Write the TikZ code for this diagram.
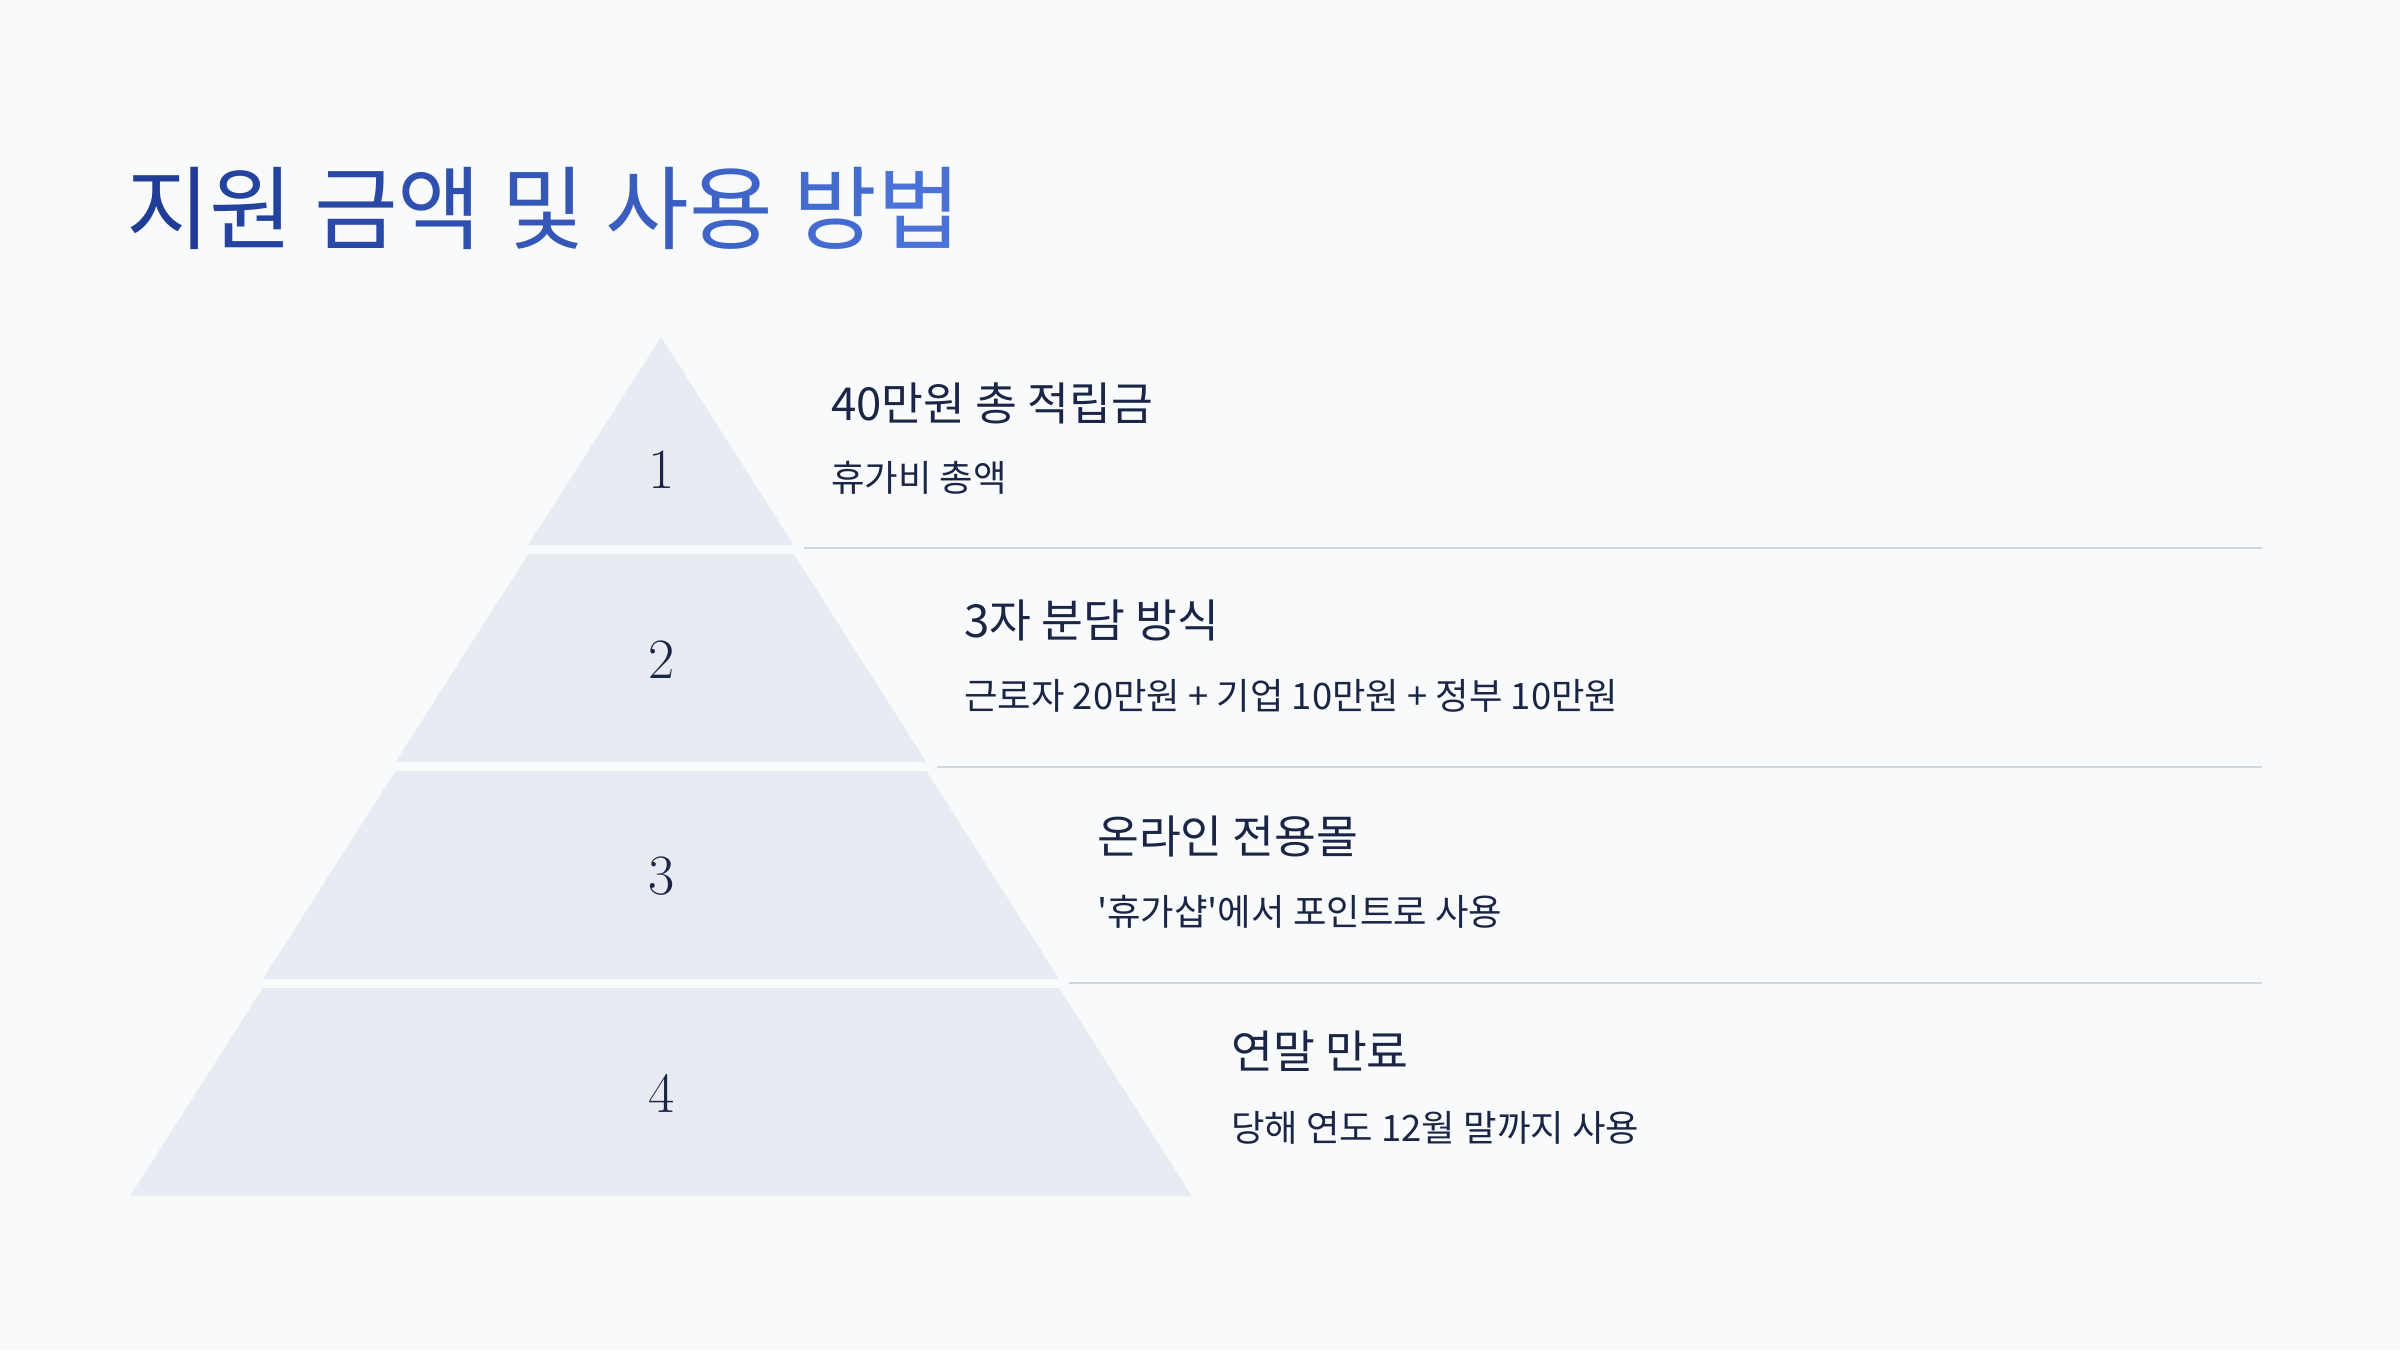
\documentclass[tikz,border=0pt]{standalone}
\usepackage{fontspec}
\newfontfamily\kr{Noto Sans CJK KR}
\usetikzlibrary{positioning}
\definecolor{bgcol}{HTML}{F9FAFC}
\definecolor{bandcol}{HTML}{E8EBF2}
\definecolor{rulecol}{HTML}{D2D5DC}
\definecolor{inkcol}{HTML}{1B2545}
\definecolor{titleA}{HTML}{1F3C96}
\definecolor{titleB}{HTML}{4A72D8}
\newcommand{\tc}[2]{\textcolor{titleB!#1!titleA}{#2}}

\begin{document}
\begin{tikzpicture}[x=1pt, y=-1pt,
    titletext/.style={anchor=west, inner sep=0pt, font=\kr\fontsize{91}{100}\selectfont},
    headtext/.style={anchor=west, inner sep=0pt, text=inkcol, font=\kr\fontsize{45.5}{52}\selectfont},
    subtext/.style={anchor=west, inner sep=0pt, text=inkcol, font=\kr\fontsize{36.4}{42}\selectfont},
    numtext/.style={inner sep=0pt, text=inkcol, font=\fontsize{57}{60}\selectfont},
    rule/.style={draw=rulecol, line width=2.2pt}]
    \fill[bgcol] (0,0) rectangle (2400,1350);

    \node[titletext] (title) at (126,208) {\tc{0}{지}\tc{12}{원} \tc{25}{금}\tc{37}{액} \tc{50}{및} \tc{62}{사}\tc{75}{용} \tc{87}{방}\tc{100}{법}};

    % pyramid bands
    \foreach \i in {1,...,4} {
        \pgfmathsetmacro\ytop{337+(\i-1)*217}
        \pgfmathsetmacro\ybot{\ytop+208}
        \pgfmathsetmacro\wtop{(\i-1)*132.7}
        \pgfmathsetmacro\wbot{\i*132.7}
        \fill[bandcol] (661-\wtop,\ytop) -- (661+\wtop,\ytop) -- (661+\wbot,\ybot) -- (661-\wbot,\ybot) -- cycle;
    }
    \node[numtext] (num1) at (662,470) {1};
    \node[numtext] (num2) at (662,660) {2};
    \node[numtext] (num3) at (662,876) {3};
    \node[numtext] (num4) at (662,1093) {4};

    % separators
    \coordinate (rule1a) at (804,548);
    \coordinate (rule1b) at (2262,548);
    \coordinate (rule2a) at (937,767);
    \coordinate (rule2b) at (2262,767);
    \coordinate (rule3a) at (1069,983);
    \coordinate (rule3b) at (2262,983);
    \foreach \i in {1,2,3} {
        \draw[rule] (rule\i a) -- (rule\i b);
    }

    % texts
    \node[headtext] (head1) at (831,403) {40만원 총 적립금};
    \node[subtext] (sub1) at (831,478) {휴가비 총액};
    \node[headtext] (head2) at (964,620) {3자 분담 방식};
    \node[subtext] (sub2) at (964,696) {근로자 20만원 + 기업 10만원 + 정부 10만원};
    \node[headtext] (head3) at (1097,836) {온라인 전용몰};
    \node[subtext] (sub3) at (1097,912) {'휴가샵'에서 포인트로 사용};
    \node[headtext] (head4) at (1231,1051) {연말 만료};
    \node[subtext] (sub4) at (1231,1128) {당해 연도 12월 말까지 사용};
\end{tikzpicture}
\end{document}
